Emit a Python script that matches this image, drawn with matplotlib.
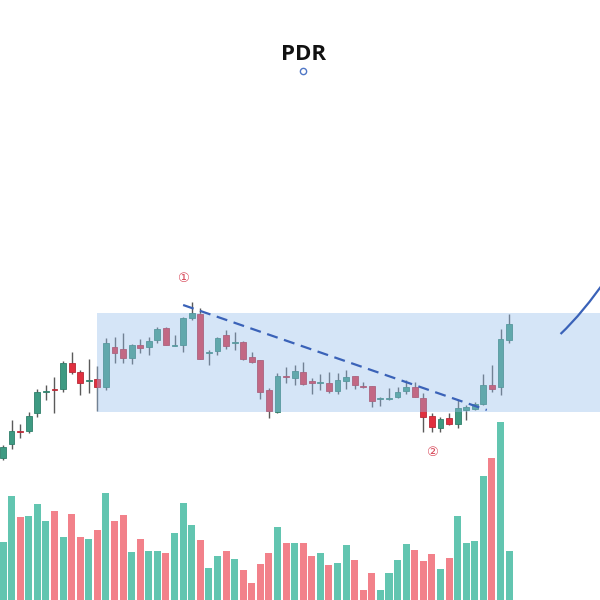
import matplotlib
matplotlib.use('Agg')
import matplotlib.pyplot as plt
import numpy as np
from matplotlib.patches import Rectangle, PathPatch
from matplotlib.path import Path

# ---------------------------------------------------------------
# Data (price in cents, volume in thousands of shares)
# ---------------------------------------------------------------
OPEN = [142, 156, 169, 169, 187, 208.5, 211, 211, 237, 228,
        219.5, 221, 213, 253, 251, 242, 255, 253, 260, 272,
        254.5, 255, 282, 286, 247, 249, 265, 257, 258, 243,
        240, 210, 188, 224, 222, 228, 219, 217.5, 217, 209,
        219, 224, 214, 214, 201.5, 201, 203, 209, 213, 202,
        184, 172, 182, 176, 190, 191, 196, 215, 213, 260]
HIGH = [155, 180, 176, 188, 211, 215, 223, 239, 248, 230,
        241, 234, 262, 263, 267, 256, 261, 263, 273, 273,
        265, 283, 298, 292, 250, 263, 270, 268, 259, 248,
        240.5, 212, 227, 233, 235, 238, 222, 226, 228, 227,
        230, 224.5, 218, 214.5, 203, 212, 213, 220, 218, 207,
        187, 183, 187, 200, 195, 198, 226, 235, 271, 286]
LOW = [140, 151, 162, 167, 183, 200, 187, 208, 226, 205,
       207, 189, 210, 237, 237, 236, 247, 245, 257, 255,
       254, 248, 280, 241, 235, 245, 251, 250, 240, 237,
       201, 182, 187, 217, 215, 215, 206, 210, 207, 206,
       211, 211, 212, 193, 194, 200, 202, 206, 203, 168,
       168, 168, 175, 172, 180, 190, 195, 208, 205, 257]
CLOSE = [153, 169, 168.5, 184, 208, 209, 210.5, 237, 228, 217,
         220, 213, 257, 247, 242, 255, 252, 259, 271, 255,
         255, 282, 287, 241, 248, 262, 254, 258, 241, 238,
         208, 189, 224, 223.5, 229, 216, 217, 218, 209, 220,
         223, 215, 213.5, 199, 202, 202, 208, 213, 203, 183,
         173, 181, 176, 192, 193, 196, 215, 211, 261, 276]
VOLUME = [58, 104, 83, 84, 96, 79, 89, 63, 86, 63,
          61, 70, 107, 79, 85, 48, 61, 49, 49, 47,
          67, 97, 75, 60, 32, 44, 49, 41, 30, 17,
          36, 47, 73, 57, 57, 57, 44, 47, 35, 37,
          55, 40, 10, 27, 10, 27, 40, 56, 50, 39,
          46, 31, 42, 84, 57, 59, 124, 142, 178, 49]

TICKER = 'PDR'
BOX_START = 11                    # consolidation range starts at this bar
BOX_LOW, BOX_HIGH = 188, 287
TREND_X = [21.0, 56.4]            # falling resistance line
TREND_Y = [295, 190]
MARK_1 = (21, 321)                # circled labels
MARK_2 = (50, 148)
ARC_X = [65.0, 67.6, 70.5]        # projected move (quadratic curve)
ARC_Y = [266, 287, 323]

GREEN = '#3e9a82'
RED = '#e0303f'
VOL_GREEN = '#62c5b0'
VOL_RED = '#f2818a'
BOX_COLOR = '#96beed'
LINE_BLUE = '#3a62b8'

# ---------------------------------------------------------------
# Chart
# ---------------------------------------------------------------
fig = plt.figure(figsize=(6, 6), dpi=100)
ax = fig.add_axes([0, 0, 1, 1])
ax_v = ax.twinx()
ax.set_zorder(2)
ax.patch.set_visible(False)

n = len(OPEN)
x = np.arange(n)
o = np.array(OPEN); c = np.array(CLOSE)
h = np.array(HIGH); l = np.array(LOW)
up = c >= o

# volume
ax_v.bar(x, VOLUME, width=0.82, color=np.where(up, VOL_GREEN, VOL_RED),
         linewidth=0)
ax_v.set_ylim(0, 600)

# candles
ax.vlines(x, l, h, color='#5a5a5a', lw=1.0, zorder=2)
body_lo = np.minimum(o, c)
body_h = np.maximum(np.abs(c - o), 0.9)
ax.bar(x, body_h, bottom=body_lo, width=0.68,
       color=np.where(up, GREEN, RED),
       edgecolor=np.where(up, '#2f7f6a', '#b82836'), linewidth=0.6, zorder=3)

# consolidation box (overlay)
ax.add_patch(Rectangle((BOX_START, BOX_LOW), 80, BOX_HIGH - BOX_LOW,
                       facecolor=BOX_COLOR, alpha=0.4, lw=0, zorder=4))

# trend line
ax.plot(TREND_X, TREND_Y, color=LINE_BLUE, lw=1.6, ls=(0, (5, 3)), zorder=5)

# projection curve
verts = list(zip(ARC_X, ARC_Y))
ax.add_patch(PathPatch(Path(verts, [Path.MOVETO, Path.CURVE3, Path.CURVE3]),
                       fill=False, edgecolor=LINE_BLUE, lw=1.6, zorder=5))

# circled markers
for (mx, my), txt in [(MARK_1, '①'), (MARK_2, '②')]:
    ax.text(mx, my, txt, color='#d8495a', fontsize=9.5, ha='center', va='center',
            family=['DejaVu Sans', 'Noto Sans CJK SC'], zorder=6)

# title with small marker
ax.text(35, 545, TICKER, fontsize=16, fontweight='bold', ha='center',
        va='center', family=['Open Sans', 'DejaVu Sans'], color='#111111')
ax.plot([35], [529], marker='o', ms=4.5, mfc='white', mec='#5077c6', mew=1.0)

ax.set_xlim(-0.35, 69.6)
ax.set_ylim(0, 600)
for a in (ax, ax_v):
    a.axis('off')

fig.savefig('out.png', dpi=100)
